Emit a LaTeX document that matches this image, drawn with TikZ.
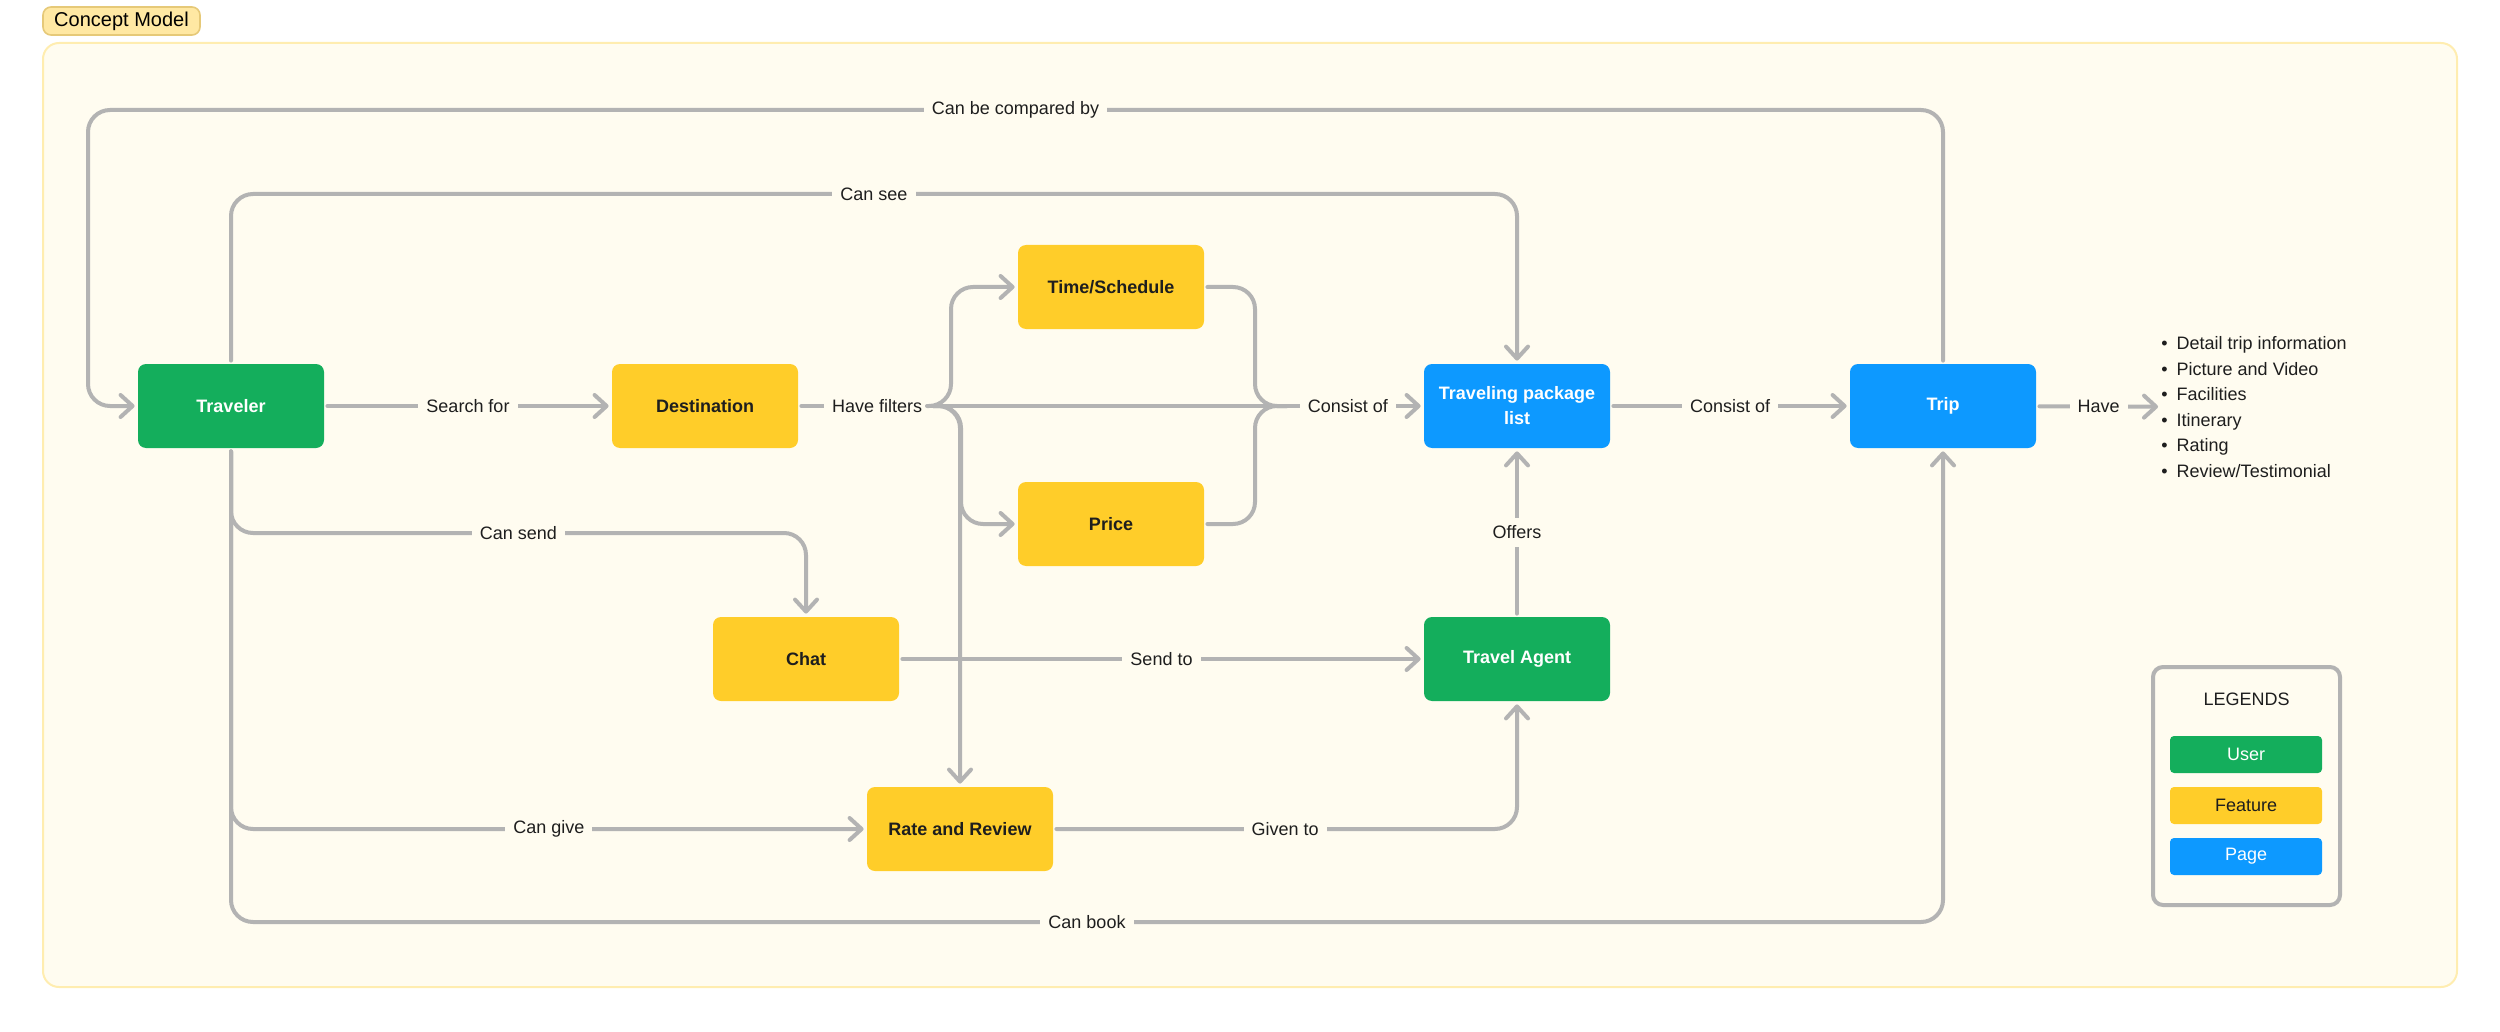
\documentclass[tikz,border=0pt]{standalone}
\usepackage{fontspec}
\setmainfont{Liberation Sans}
\usepackage{tikz}
\usetikzlibrary{arrows.meta, calc, positioning}
\definecolor{usergreen}{HTML}{14AE5C}
\definecolor{featyellow}{HTML}{FFCD29}
\definecolor{pageblue}{HTML}{0D99FF}
\definecolor{linegray}{HTML}{B3B3B3}
\definecolor{panelfill}{HTML}{FFFCF0}
\definecolor{paneldraw}{HTML}{FFEDB0}
\definecolor{tagfill}{HTML}{FFE8A3}
\definecolor{tagdraw}{HTML}{E6C978}
\definecolor{inkdark}{HTML}{1E1E1E}

\begin{document}
\begin{tikzpicture}[x=0.5pt, y=-0.5pt, text=inkdark, font=\fontsize{9}{12.5}\selectfont,
  box/.style={rectangle, rounded corners=4pt, minimum width=93pt, minimum height=42pt, inner sep=0pt,
    align=center, font=\fontsize{9}{12.5}\selectfont\bfseries},
  user/.style={box, fill=usergreen, text=white},
  feature/.style={box, fill=featyellow},
  page/.style={box, fill=pageblue, text=white},
  keybox/.style={minimum width=76pt, minimum height=18.5pt, rounded corners=2pt, font=\fontsize{9}{11}\selectfont},
  link/.style={draw=linegray, line width=2pt, rounded corners=11pt, line cap=round, shorten >=1.5pt, shorten <=1.5pt},
  arrow/.style={link, -{Straight Barb[length=6pt, width=11pt, round]}},
  lbl/.style={fill=panelfill, inner sep=4pt, rounded corners=0pt, text=inkdark, font=\fontsize{9}{11}\selectfont}]
\useasboundingbox (0,0) rectangle (2500,1032);
\draw[fill=panelfill, draw=paneldraw, line width=1pt, rounded corners=8pt] (43,43) rectangle (2457,987);
\node[fill=tagfill, draw=tagdraw, line width=0.8pt, rounded corners=4pt, minimum width=78.5pt, minimum height=14pt,
  inner sep=0pt, text=black, font=\fontsize{10}{12}\selectfont] (title) at (121.5,21) {Concept Model};

\node[user] (traveler) at (231,406) {Traveler};
\node[feature] (dest) at (705,406) {Destination};
\node[feature] (time) at (1111,287) {Time/Schedule};
\node[feature] (price) at (1111,524) {Price};
\node[page] (tpl) at (1517,406) {Traveling package\\list};
\node[page] (trip) at (1943,406) {Trip};
\node[feature] (chat) at (806,659) {Chat};
\node[user] (agent) at (1517,659) {Travel Agent};
\node[feature] (rate) at (960,829) {Rate and Review};
\node[anchor=west, align=left, inner sep=0pt, font=\fontsize{9}{12.8}\selectfont] (features) at (2161,407)
  {\textbullet\enspace Detail trip information\\ \textbullet\enspace Picture and Video\\
   \textbullet\enspace Facilities\\ \textbullet\enspace Itinerary\\ \textbullet\enspace Rating\\
   \textbullet\enspace Review/Testimonial};

\node[draw=linegray, fill=panelfill, line width=2pt, rounded corners=5pt, minimum width=93.5pt, minimum height=119pt] (legend) at (2246.5,786) {};
\node (legendtitle) at (2246.5,699) {LEGENDS};
\node[user, keybox] (keyuser) at (2246,754.5) {User};
\node[feature, keybox] (keyfeature) at (2246,805.5) {Feature};
\node[page, keybox] (keypage) at (2246,856.5) {Page};

\coordinate (fork) at (930,406);
\coordinate (upbend) at (951,406);
\coordinate (downbend) at (961,406);
\coordinate (merge) at (1255,406);
\coordinate (mergeout) at (1290,406);
\coordinate (cmpcorner) at (88,110);
\coordinate (seerow) at (0,194);
\coordinate (sendrow) at (0,533);
\coordinate (bookrow) at (0,922);

\draw[arrow] (trip.north) |- node[lbl, pos=0.75] {Can be compared by} (cmpcorner) |- (traveler.west);
\draw[arrow] (traveler.north) |- node[lbl, pos=0.75] {Can see} (tpl.north |- seerow) -- (tpl.north);
\draw[arrow] (traveler) -- node[lbl] {Search for} (dest);
\draw[arrow] (dest) -- node[lbl, pos=0.126] {Have filters} node[lbl, pos=0.879] {Consist of} (tpl);
\draw[arrow] (fork) -- (upbend) |- (time.west);
\draw[arrow] (fork) -- (downbend) |- (price.west);
\draw[arrow] (fork) -| (rate.north);
\draw[link] (time.east) -| (merge) -- (mergeout);
\draw[link] (price.east) -| (merge) -- (mergeout);
\draw[arrow] (tpl) -- node[lbl] {Consist of} (trip);
\draw[arrow] (trip) -- node[lbl] {Have} (features);
\draw[arrow] (agent) -- node[lbl] {Offers} (tpl);
\draw[arrow] (traveler.south) |- node[lbl, pos=0.75] {Can send} (chat.north |- sendrow) -- (chat.north);
\draw[arrow] (chat) -- node[lbl] {Send to} (agent);
\draw[arrow] (traveler.south) |- node[lbl, pos=0.75] {Can give} (rate.west);
\draw[arrow] (rate) -| node[lbl, pos=0.25] {Given to} (agent.south);
\draw[arrow] (traveler.south) |- node[lbl, pos=0.75] {Can book} (trip.south |- bookrow) -- (trip.south);
\end{tikzpicture}
\end{document}
